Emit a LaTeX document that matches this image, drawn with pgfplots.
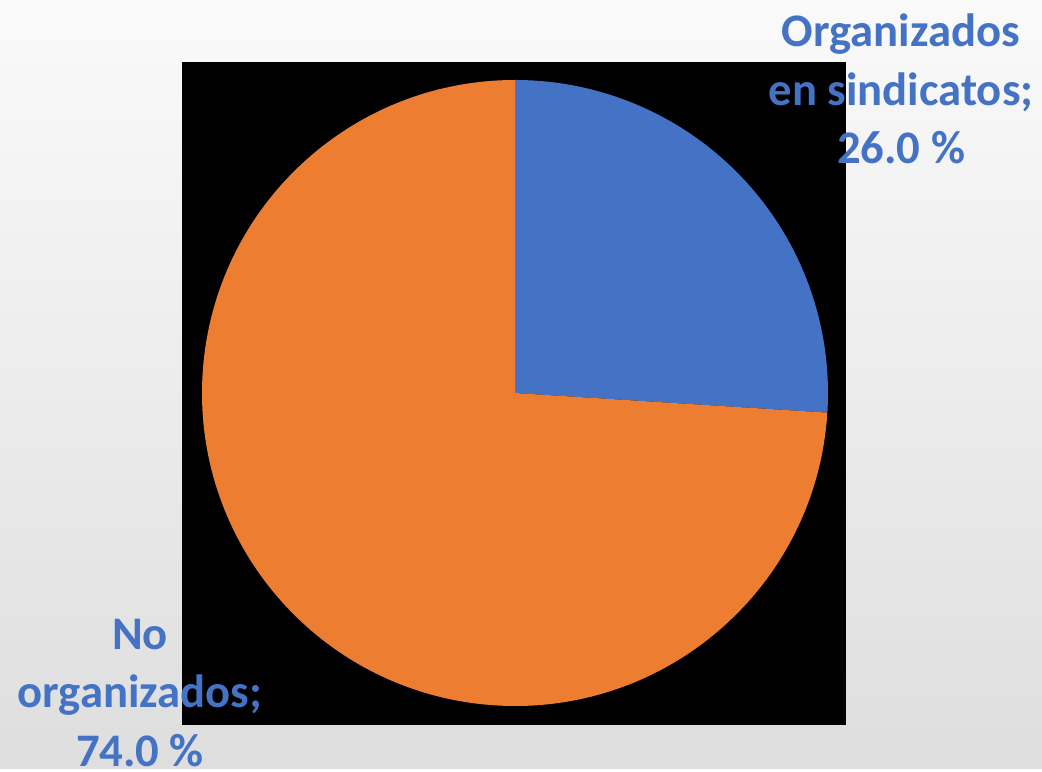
\documentclass[border=0pt]{standalone}
\usepackage{pgfplots}
\pgfplotsset{compat=1.18}
\usepackage{fontspec}
\setmainfont{Carlito}
\definecolor{lblblue}{HTML}{4472C4}
\definecolor{sliceblue}{HTML}{4472C4}
\definecolor{sliceorange}{HTML}{ED7D31}
% pie values (percent)
\def\valA{26.0}
\def\valB{74.0}
\begin{document}
\begin{tikzpicture}
\begin{axis}[
  hide axis, scale only axis,
  x=0.75pt, y=0.75pt,
  xmin=0, xmax=1042, ymin=0, ymax=769,
  clip=false,
]
\fill[top color=black!2, bottom color=black!13] (axis cs:0,0) rectangle (axis cs:1042,769);
\fill[black] (axis cs:182,44) rectangle (axis cs:846,707);
% slices: start at 90 deg, clockwise
\pgfmathsetmacro{\endA}{90-3.6*\valA}
\pgfmathsetmacro{\endB}{\endA-3.6*\valB}
\fill[sliceblue] (axis cs:515,376) -- ++(90:234.75pt) arc[start angle=90, end angle=\endA, radius=234.75pt] -- cycle;
\fill[sliceorange] (axis cs:515,376) -- ++(\endA:234.75pt) arc[start angle=\endA, end angle=\endB, radius=234.75pt] -- cycle;
\node[font=\fontsize{35}{44}\selectfont\bfseries, text=lblblue, align=center] at (axis cs:901,680) {Organizados\\en sindicatos;\\26.0 \%};
\node[font=\fontsize{35}{44}\selectfont\bfseries, text=lblblue, align=center] at (axis cs:140,76) {No\\organizados;\\74.0 \%};
\end{axis}
\end{tikzpicture}
\end{document}
